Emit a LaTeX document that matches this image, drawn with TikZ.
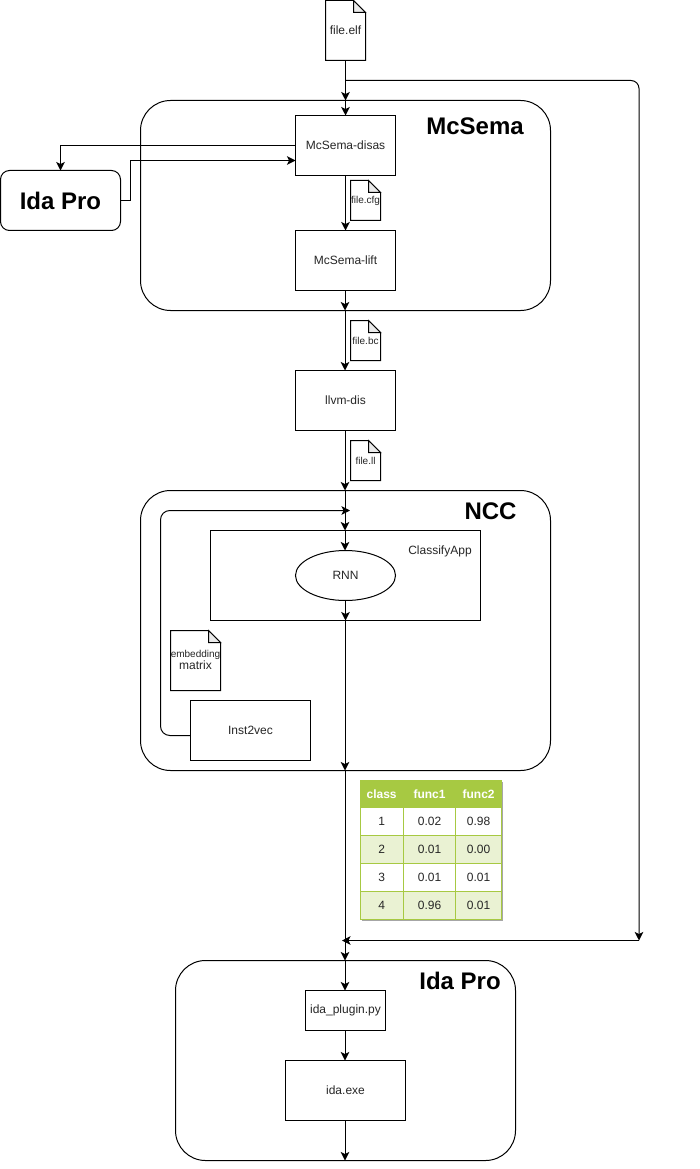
\documentclass[tikz,border=0pt]{standalone}
\usepackage{fontspec}
\setmainfont{Liberation Sans}
\usetikzlibrary{arrows.meta,shapes.geometric}
\definecolor{tgreen}{HTML}{A7C942}
\definecolor{tpale}{HTML}{EAF2D3}
\newcommand{\fsmall}{\fontsize{7.5}{9}\selectfont}
\newcommand{\fnorm}{\fontsize{9}{11}\selectfont}
\newcommand{\ftitle}{\fontsize{18}{22}\selectfont\bfseries}
% name, centre x, centre y, width px, height px, text
\newcommand{\docfile}[6]{%
  \node[docbody,minimum width=#4*0.75pt,minimum height=#5*0.75pt] (#1) at (#2,#3) {#6};
  \draw[lw,line join=miter] ([xshift=-9pt]#1.north east) -- (#1.north west) -- (#1.south west) -- (#1.south east) -- ([yshift=-9pt]#1.north east) -- cycle;
  \draw[lw,fill=black!8] ([xshift=-9pt]#1.north east) -- ([xshift=-9pt,yshift=-9pt]#1.north east) -- ([yshift=-9pt]#1.north east) -- cycle;
}
\tikzset{
  x=0.75pt,y=-0.75pt,
  lw/.style={line width=0.75pt,draw=black},
  arr/.style={lw,-{Stealth[length=6.4pt,width=6.4pt,inset=1.6pt]}},
  boxnode/.style={draw=black,line width=0.75pt,fill=white,text=black!85,inner sep=0pt,outer sep=0pt,font=\fnorm},
  group/.style={boxnode,rounded corners=22.5pt},
  title/.style={inner sep=0pt,font=\ftitle},
  docbody/.style={inner sep=0pt,outer sep=0pt,text=black!85,font=\fnorm},
  cellhead/.style={draw=tgreen,line width=0.75pt,fill=tgreen,text=white,inner sep=0pt,outer sep=0pt,font=\fnorm\bfseries,minimum height=20.85pt},
  cellw/.style={draw=tgreen,line width=0.75pt,fill=white,text=black!85,inner sep=0pt,outer sep=0pt,font=\fnorm,minimum height=21pt},
  cellg/.style={draw=tgreen,line width=0.75pt,fill=tpale,text=black!85,inner sep=0pt,outer sep=0pt,font=\fnorm,minimum height=21pt},
  ca/.style={minimum width=32.25pt},
  cb/.style={minimum width=39.45pt},
  cc/.style={minimum width=34.2pt},
}
\begin{document}
\begin{tikzpicture}
\useasboundingbox[fill=white] (0,0) rectangle (699,1169);

% groups
\node[group,minimum width=307.5pt,minimum height=157.5pt] (mcsema) at (345.5,205.5) {};
\node[group,minimum width=307.5pt,minimum height=210pt] (ncc) at (345.5,630.5) {};
\node[group,minimum width=255pt,minimum height=150pt] (idagroup) at (345.5,1060.5) {};
\node[title] (tmc) at (475,126) {McSema};
\node[title] (tncc) at (490.5,511) {NCC};
\node[title] (tida) at (460,981) {Ida Pro};

% boxes
\node[boxnode,minimum width=75pt,minimum height=45pt] (disas) at (345.5,145.5) {McSema-disas};
\node[boxnode,minimum width=75pt,minimum height=45pt] (lift) at (345.5,260.5) {McSema-lift};
\node[boxnode,minimum width=75pt,minimum height=45pt] (llvm) at (345.5,400.5) {llvm-dis};
\node[boxnode,rounded corners=6.75pt,minimum width=90pt,minimum height=45pt,font=\ftitle,text=black] (idasmall) at (60.5,200.5) {Ida Pro};
\node[boxnode,minimum width=202.5pt,minimum height=67.5pt] (classify) at (345.5,575.5) {};
\node[inner sep=0pt,text=black!85,font=\fnorm] (classifytxt) at (440,551) {ClassifyApp};
\node[boxnode,ellipse,minimum width=75pt,minimum height=37.5pt] (rnn) at (345.5,575.5) {RNN};
\node[boxnode,minimum width=90pt,minimum height=45pt] (inst) at (250.5,730.5) {Inst2vec};
\node[boxnode,minimum width=60pt,minimum height=30pt] (plugin) at (345.5,1010.5) {ida\_plugin.py};
\node[boxnode,minimum width=90pt,minimum height=45pt] (idaexe) at (345.5,1090.5) {ida.exe};

% junctions
\coordinate (j1) at (345.5,80.5);
\coordinate (a1) at (345.5,100.5);
\coordinate (r1) at (639,80.5);
\coordinate (r2) at (639,940.5);
\coordinate (m1) at (345,310.5);
\coordinate (m2) at (345,490.5);
\coordinate (m3) at (345,530.5);
\coordinate (m4) at (345,770.5);
\coordinate (m5) at (345,960.5);
\coordinate (m6) at (342,940.5);
\coordinate (loop1) at (160.5,735.5);
\coordinate (loop2) at (160.5,510.5);
\coordinate (loop3) at (350,510.5);
\coordinate (idaL) at (60.5,145.5);
\coordinate (idaR) at (130.5,200.5);
\coordinate (idaR2) at (130.5,160.5);
\coordinate (endpt) at (345,1160.5);

% files
\docfile{elf}{345.5}{30.5}{40}{60}{file.elf}
\docfile{cfg}{365.5}{200.5}{30}{40}{\fsmall file.cfg}
\docfile{bc}{365.5}{340.5}{30}{40}{\fsmall file.bc}
\docfile{ll}{365.5}{460.5}{30}{40}{\fsmall file.ll}
\docfile{emb}{195.5}{660.5}{50}{60}{\begin{tabular}{@{}c@{}}\fsmall embedding\\[-1.5pt]\fnorm matrix\end{tabular}}

% connectors
\draw[arr] (elf.south) -- (a1);
\draw[arr] (a1) -- (disas.north);
\draw[arr,rounded corners=6pt] (j1) -- (r1) -- (r2);
\draw[arr] (r2) -- (m6);
\draw[arr] (disas.west |- idaL) -- (idaL) -- (idasmall.north);
\draw[arr] (idasmall.east) -- (idaR) -- (idaR2) -- (disas.west |- idaR2);
\draw[arr] (disas.south) -- (lift.north);
\draw[arr] ([xshift=-0.375pt]lift.south) -- (m1);
\draw[arr] (m1) -- ([xshift=-0.375pt]llvm.north);
\draw[arr] ([xshift=-0.375pt]llvm.south) -- (m2);
\draw[arr] (m2) -- (m3);
\draw[arr] (m3) -- ([xshift=-0.375pt]rnn.north);
\draw[arr] (rnn.south) -- (classify.south);
\draw[arr] ([xshift=-0.375pt]classify.south) -- (m4);
\draw[arr] (m4) -- (m5);
\draw[arr] (m5) -- ([xshift=-0.375pt]plugin.north);
\draw[arr] ([xshift=-0.375pt]plugin.south) -- ([xshift=-0.375pt]idaexe.north);
\draw[arr] ([xshift=-0.375pt]idaexe.south) -- (endpt);
\draw[arr,rounded corners=7pt] (inst.west |- loop1) -- (loop1) -- (loop2) -- (loop3);

% table
\fill[black!35] (362,782) rectangle (503,921);
\node[cellhead,ca] (h1) at (381.6,794) {class\hspace{1.5pt}};
\node[cellhead,cb] (h2) at (429.5,794) {func1};
\node[cellhead,cc] (h3) at (478.6,794) {func2\hspace{3.75pt}};
\node[cellw,ca] (a1c) at (381.6,821.5) {1\hspace{4.5pt}};
\node[cellw,cb] (b1c) at (429.5,821.5) {0.02};
\node[cellw,cc] (c1c) at (478.6,821.5) {0.98};
\node[cellg,ca] (a2c) at (381.6,849.5) {2\hspace{4.5pt}};
\node[cellg,cb] (b2c) at (429.5,849.5) {0.01};
\node[cellg,cc] (c2c) at (478.6,849.5) {0.00};
\node[cellw,ca] (a3c) at (381.6,877.5) {3\hspace{4.5pt}};
\node[cellw,cb] (b3c) at (429.5,877.5) {0.01};
\node[cellw,cc] (c3c) at (478.6,877.5) {0.01};
\node[cellg,ca] (a4c) at (381.6,905.5) {4\hspace{4.5pt}};
\node[cellg,cb] (b4c) at (429.5,905.5) {0.96};
\node[cellg,cc] (c4c) at (478.6,905.5) {0.01};
\end{tikzpicture}
\end{document}
